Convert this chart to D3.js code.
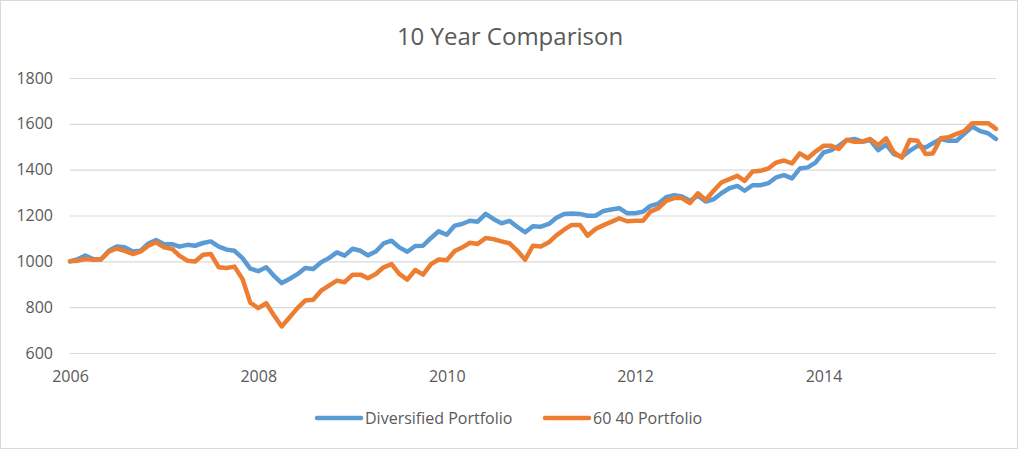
<!DOCTYPE html>
<html>
<head>
<meta charset="utf-8">
<script src="https://cdnjs.cloudflare.com/ajax/libs/d3/7.8.5/d3.min.js"></script>
<style>
  body { margin: 0; background: #fff; }
  text { font-family: "Open Sans", sans-serif; fill: #595959; }
</style>
</head>
<body>
<div id="chart"></div>
<script>
var svgWidth = 1020;
var svgHeight = 450;

var margin = { top: 78, right: 24, bottom: 97, left: 70 };
var width = 996 - margin.left;
var height = 353 - margin.top;

// monthly values, Jan 2006 - Nov 2015
var seriesNames = ["Diversified Portfolio", "60 40 Portfolio"];
var seriesColors = ["#5B9BD5", "#ED7D31"];
var yTicks = [600, 800, 1000, 1200, 1400, 1600, 1800];
var xTickYears = [2006, 2008, 2010, 2012, 2014];

var diversified = [
  1000, 1010, 1025, 1010, 1008, 1046, 1065, 1061, 1043, 1046, 1078, 1093,
  1075, 1075, 1064, 1072, 1068, 1080, 1087, 1064, 1051, 1046, 1014, 968,
  957, 974, 938, 905, 923, 944, 971, 967, 996, 1014, 1039, 1025,
  1055, 1046, 1026, 1043, 1078, 1090, 1061, 1042, 1067, 1068, 1102, 1131,
  1116, 1156, 1163, 1177, 1173, 1207, 1185, 1166, 1177, 1151, 1127, 1153,
  1151, 1163, 1189, 1207, 1209, 1207, 1199, 1199, 1220, 1226, 1232, 1210,
  1210, 1216, 1242, 1252, 1280, 1289, 1283, 1264, 1286, 1261, 1271, 1297,
  1319, 1329, 1308, 1332, 1332, 1341, 1366, 1376, 1362, 1405, 1410, 1431,
  1475, 1485, 1504, 1529, 1534, 1522, 1529, 1485, 1509, 1468, 1456, 1482,
  1504, 1497, 1515, 1534, 1526, 1526, 1556, 1588, 1568, 1559, 1534
];

var sixtyForty = [
  1000, 1003, 1010, 1007, 1009, 1042, 1056, 1046, 1032, 1042, 1068, 1083,
  1061, 1054, 1025, 1003, 999, 1029, 1032, 974, 971, 977, 923, 820,
  796, 817, 766, 716, 755, 796, 829, 832, 872, 894, 916, 909,
  942, 942, 926, 945, 974, 988, 945, 920, 962, 942, 988, 1008,
  1005, 1045, 1060, 1081, 1076, 1102, 1097, 1087, 1079, 1047, 1007, 1068,
  1065, 1083, 1112, 1138, 1159, 1159, 1112, 1141, 1158, 1172, 1188, 1175,
  1177, 1177, 1217, 1232, 1264, 1276, 1276, 1254, 1297, 1268, 1308, 1344,
  1359, 1373, 1351, 1392, 1395, 1405, 1431, 1440, 1427, 1471, 1450, 1479,
  1504, 1504, 1490, 1530, 1522, 1522, 1534, 1507, 1537, 1475, 1453, 1529,
  1526, 1468, 1471, 1537, 1541, 1556, 1568, 1603, 1603, 1603, 1578
];

var months = d3.timeMonth.range(new Date(2006, 0, 1), new Date(2015, 11, 1));

var svg = d3.select("#chart")
  .append("svg")
  .attr("width", svgWidth)
  .attr("height", svgHeight);

// outer border
svg.append("rect")
  .attr("x", 0.5)
  .attr("y", 0.5)
  .attr("width", svgWidth - 3)
  .attr("height", svgHeight - 2)
  .attr("fill", "#fff")
  .attr("stroke", "#d9d9d9");

svg.append("text")
  .attr("x", 510)
  .attr("y", 45)
  .attr("text-anchor", "middle")
  .attr("font-size", "24px")
  .text("10 Year Comparison");

var chartGroup = svg.append("g")
  .attr("transform", `translate(${margin.left}, ${margin.top})`);

var xScale = d3.scaleTime()
  .domain([months[0], months[months.length - 1]])
  .range([0, width]);

var yScale = d3.scaleLinear()
  .domain([600, 1800])
  .range([height, 0]);

// gridlines + y labels
var leftAxis = d3.axisLeft(yScale)
  .tickValues(yTicks)
  .tickSize(-width)
  .tickPadding(17)
  .tickFormat(d3.format("d"));

var yAxisG = chartGroup.append("g").call(leftAxis);
yAxisG.select(".domain").remove();
yAxisG.selectAll("line").attr("stroke", "#d9d9d9").attr("stroke-width", 1.2);
yAxisG.selectAll("text")
  .attr("font-size", "16px")
  .attr("fill", "#595959")
  .style("font-family", "'Open Sans', sans-serif");

var bottomAxis = d3.axisBottom(xScale)
  .tickValues(xTickYears.map(y => new Date(y, 0, 1)))
  .tickSize(0)
  .tickPadding(18)
  .tickFormat(d3.timeFormat("%Y"));

var xAxisG = chartGroup.append("g")
  .attr("transform", `translate(0, ${height})`)
  .call(bottomAxis);
xAxisG.select(".domain").remove();
xAxisG.selectAll("text")
  .attr("font-size", "16px")
  .attr("fill", "#595959")
  .style("font-family", "'Open Sans', sans-serif");

// lines
var line = d3.line()
  .x((d, i) => xScale(months[i]))
  .y(d => yScale(d));

[diversified, sixtyForty].forEach(function(values, k) {
  chartGroup.append("path")
    .datum(values)
    .attr("d", line)
    .attr("fill", "none")
    .attr("stroke", seriesColors[k])
    .attr("stroke-width", 4.5)
    .attr("stroke-linejoin", "round")
    .attr("stroke-linecap", "round");
});

// legend
var legendX = [317, 545];
var legend = svg.append("g").attr("transform", "translate(0, 418)");
seriesNames.forEach(function(name, k) {
  legend.append("line")
    .attr("x1", legendX[k])
    .attr("x2", legendX[k] + 44)
    .attr("y1", 0)
    .attr("y2", 0)
    .attr("stroke", seriesColors[k])
    .attr("stroke-width", 4.5)
    .attr("stroke-linecap", "round");
  legend.append("text")
    .attr("x", legendX[k] + 48)
    .attr("y", 6)
    .attr("font-size", "16px")
    .text(name);
});
</script>
</body>
</html>
